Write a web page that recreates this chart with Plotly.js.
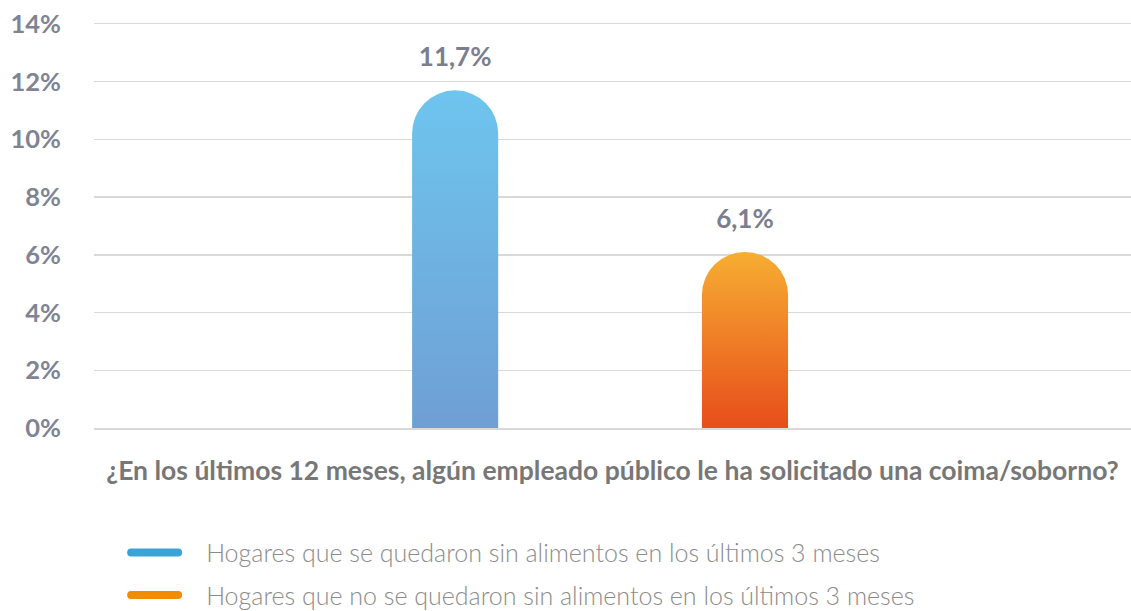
<!DOCTYPE html>
<html>
<head>
<meta charset="utf-8">
<script src="https://cdn.plot.ly/plotly-3.0.1.min.js"></script>
<style>
  html, body { margin: 0; padding: 0; background: #fff; }
  #chart { width: 1131px; height: 611px; }
  /* short rounded legend swatch, with room before the text */
  .legendlines path { stroke-linecap: round; stroke-dasharray: 47 1000; }
</style>
</head>
<body>
<div id="chart"></div>
<script>
// Data
const question = '¿En los últimos 12 meses, algún empleado público le ha solicitado una coima/soborno?';
const seriesNames = [
  'Hogares que se quedaron sin alimentos en los últimos 3 meses',
  'Hogares que no se quedaron sin alimentos en los últimos 3 meses'
];
const values = [11.7, 6.1];
// bar gradient colours (top, bottom) and legend colours
const gradTop = ['#6EC5EF', '#F6AE32'];
const gradBottom = ['#6F9FD4', '#E84D1B'];
const legendColors = ['#3BA3D6', '#F28C00'];

const font = 'Lato, "Open Sans", sans-serif';

const traces = [];
// bars
seriesNames.forEach((name, i) => {
  traces.push({
    type: 'bar',
    x: [question],
    y: [values[i]],
    name: name,
    showlegend: false,
    marker: { color: gradTop[i], cornerradius: '50%' },
    // small blank second line lifts the label off the bar top
    texttemplate: '<span style="font-size:26px">%{y:.1f}%</span><br> ',
    textposition: 'outside',
    cliponaxis: false,
    textfont: { family: font, size: 14, color: '#7A7E8F', weight: 'bold' },
    hoverinfo: 'skip'
  });
});
// legend entries (line style, as in the reference)
seriesNames.forEach((name, i) => {
  traces.push({
    type: 'scatter',
    mode: 'lines',
    x: [question],
    y: [null],
    name: name,
    legendgroup: 'g' + i,
    line: { color: legendColors[i], width: 8 },
    hoverinfo: 'skip'
  });
});

const layout = {
  width: 1131,
  height: 611,
  margin: { l: 94, r: 0, t: 24, b: 183, autoexpand: false },
  paper_bgcolor: '#fff',
  plot_bgcolor: '#fff',
  barmode: 'group',
  bargap: 0.441,
  bargroupgap: 0.703,
  separators: ',.',
  font: { family: font, color: '#7F8494' },
  xaxis: {
    type: 'category',
    range: [-0.488, 0.512],
    automargin: false,
    showticklabels: false,
    showgrid: false,
    zeroline: false,
    // top and bottom rules of the plot area
    showline: true,
    mirror: true,
    linecolor: '#D9D9D9',
    linewidth: 1.5,
    title: {
      text: question,
      standoff: 33,
      font: { family: font, size: 26.5, color: '#777777', weight: 'bold' }
    }
  },
  yaxis: {
    range: [0, 14],
    dtick: 2,
    ticksuffix: '%',
    automargin: false,
    gridcolor: '#D9D9D9',
    gridwidth: 1.5,
    zeroline: false,
    showline: false,
    ticklabelstandoff: 32,
    tickfont: { family: font, size: 25.5, color: '#7F8494', weight: 'bold' }
  },
  showlegend: true,
  legend: {
    orientation: 'v',
    x: 0.031,
    xanchor: 'left',
    y: -0.252,
    yanchor: 'top',
    itemwidth: 70,
    tracegroupgap: 7,
    font: { family: font, size: 25, color: '#8C8C8C', weight: 300 }
  }
};

Plotly.newPlot('chart', traces, layout, { displayModeBar: false, staticPlot: true }).then(gd => {
  // vertical gradient fill for the bars, like the reference
  const svg = gd.querySelector('.main-svg');
  const ns = 'http://www.w3.org/2000/svg';
  let defs = svg.querySelector('defs');
  seriesNames.forEach((name, i) => {
    const lg = document.createElementNS(ns, 'linearGradient');
    lg.setAttribute('id', 'barGrad' + i);
    lg.setAttribute('x1', '0'); lg.setAttribute('y1', '0');
    lg.setAttribute('x2', '0'); lg.setAttribute('y2', '1');
    [[0, gradTop[i]], [1, gradBottom[i]]].forEach(([off, col]) => {
      const st = document.createElementNS(ns, 'stop');
      st.setAttribute('offset', off);
      st.setAttribute('stop-color', col);
      lg.appendChild(st);
    });
    defs.appendChild(lg);
  });
  gd.querySelectorAll('.barlayer .trace').forEach((tr, i) => {
    tr.querySelectorAll('.point path').forEach(p => { p.style.fill = 'url(#barGrad' + i + ')'; });
  });
});
</script>
</body>
</html>
